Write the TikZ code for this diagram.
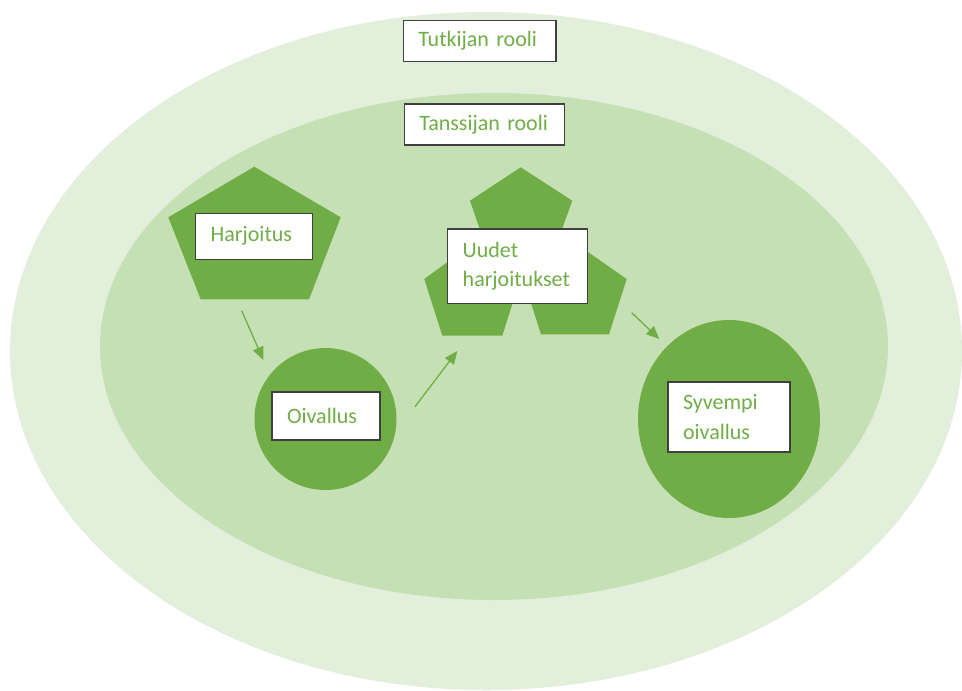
\documentclass[tikz,border=0pt]{standalone}
\usepackage{fontspec}
\setmainfont{Carlito}
\usetikzlibrary{arrows.meta}
\definecolor{outerg}{HTML}{E2EFDA}
\definecolor{innerg}{HTML}{C5E0B4}
\definecolor{dkgreen}{HTML}{70AD47}
\definecolor{boxgray}{HTML}{404040}
\tikzset{
  box/.style={draw=boxgray, fill=white, line width=1.2pt, inner xsep=15pt, inner ysep=0pt,
    align=left, text=dkgreen, font=\fontsize{22}{29.5}\selectfont, anchor=center},
  flowarrow/.style={draw=dkgreen, line width=1.3pt, -{Triangle[length=13pt,width=11pt]}},
  darkshape/.style={fill=dkgreen}
}
\begin{document}
\begin{tikzpicture}[x=1pt,y=-1pt]
\useasboundingbox (0,0) rectangle (962,691);
\clip (0,0) rectangle (962,691);
\fill[white] (0,0) rectangle (962,691);
% ellipses
\fill[outerg] (486,351) ellipse[x radius=476, y radius=339];
\fill[innerg] (494,346.5) ellipse[x radius=394, y radius=253.5];
% pentagon Harjoitus
\fill[darkshape] (254.3,166.7) -- (340.7,217.3) -- (309,299.3) -- (200.7,299.3) -- (168.3,217.3) -- cycle;
% cluster of pentagons
\fill[darkshape] (520.7,167.3) -- (572.3,200.7) -- (552.8,254.7) -- (488.6,254.7) -- (470,200.7) -- cycle;
\fill[darkshape] (472.3,244) -- (520.3,279) -- (502.3,335.7) -- (442.3,335.7) -- (424.3,279) -- cycle;
\fill[darkshape] (575,243) -- (626.7,279) -- (609,334.3) -- (541,334.3) -- (523.3,279) -- cycle;
% circles
\fill[darkshape] (325.5,419) circle[radius=71];
\fill[darkshape] (729,419) ellipse[x radius=91, y radius=99];
% boxes
\node[box, text width=122.7pt, minimum height=41pt] (tutkija) at (479.7,41.2) {Tutkijan rooli};
\node[box, text width=130.4pt, minimum height=41pt] (tanssija) at (484.5,124.5) {Tanssijan rooli};
\node[box, text width=87pt, minimum height=46pt] (harj) at (254.2,236.3) {Harjoitus};
\node[box, text width=109.6pt, minimum height=74.7pt] (uudet) at (517.5,266.4) {Uudet\\harjoitukset};
\node[box, text width=78pt, minimum height=48pt] (oiv) at (326,416) {Oivallus};
\node[box, text width=92pt, minimum height=70pt] (syv) at (729,417) {Syvempi\\oivallus};
% arrows
\coordinate (a1s) at (241.7,310.7);
\coordinate (a1e) at (263.3,360);
\coordinate (a2s) at (415,406.7);
\coordinate (a2e) at (457.3,351);
\coordinate (a3s) at (631.7,312.7);
\coordinate (a3e) at (659.3,339);
\draw[flowarrow] (a1s) -- (a1e);
\draw[flowarrow] (a2s) -- (a2e);
\draw[flowarrow] (a3s) -- (a3e);
\end{tikzpicture}
\end{document}
